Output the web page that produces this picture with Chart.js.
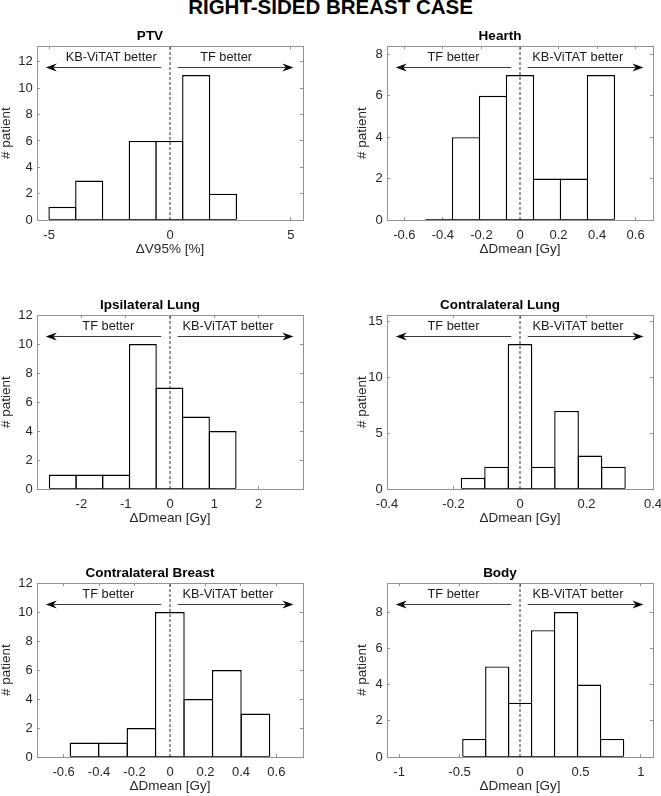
<!DOCTYPE html>
<html><head><meta charset="utf-8">
<script src="https://cdn.jsdelivr.net/npm/chart.js@4"></script>
<style>
html,body{margin:0;padding:0;background:#fff;}
body{width:661px;height:796px;position:relative;overflow:hidden;}
#title{position:absolute;left:0;top:-1px;width:661px;text-align:center;font:bold 20.5px "Liberation Sans",Arial,sans-serif;line-height:15px;color:#000;}
canvas{position:absolute;}
</style></head><body>
<div id="title">RIGHT-SIDED BREAST CASE</div>
<canvas id="c0"></canvas><canvas id="c1"></canvas><canvas id="c2"></canvas>
<canvas id="c3"></canvas><canvas id="c4"></canvas><canvas id="c5"></canvas>
<script>
// ---------- data ----------
const ptvEdges = [-5.0, -3.894, -2.788, -1.682, -0.576, 0.53, 1.636, 2.742];
const ptvCounts = [1, 3, 0, 6, 6, 11, 2];
const ptvXTicks = [-5, 0, 5];
const ptvYTicks = [0, 2, 4, 6, 8, 10, 12];

const heartEdges = [-0.49, -0.35, -0.21, -0.07, 0.07, 0.21, 0.35, 0.49];
const heartCounts = [0, 4, 6, 7, 2, 2, 7];
const heartXTicks = [-0.6, -0.4, -0.2, 0, 0.2, 0.4, 0.6];
const heartYTicks = [0, 2, 4, 6, 8];

const ipsiEdges = [-2.72, -2.12, -1.515, -0.915, -0.31, 0.285, 0.885, 1.49];
const ipsiCounts = [1, 1, 1, 10, 7, 5, 4];
const ipsiXTicks = [-2, -1, 0, 1, 2];
const ipsiYTicks = [0, 2, 4, 6, 8, 10, 12];

const contraLungEdges = [-0.176, -0.106, -0.035, 0.035, 0.105, 0.175, 0.246, 0.316];
const contraLungCounts = [1, 2, 13, 2, 7, 3, 2];
const contraLungXTicks = [-0.4, -0.2, 0, 0.2, 0.4];
const contraLungYTicks = [0, 5, 10, 15];

const breastEdges = [-0.5625, -0.402, -0.241, -0.081, 0.079, 0.24, 0.401, 0.5625];
const breastCounts = [1, 1, 2, 10, 4, 6, 3];
const breastXTicks = [-0.6, -0.4, -0.2, 0, 0.2, 0.4, 0.6];
const breastYTicks = [0, 2, 4, 6, 8, 10, 12];

const bodyEdges = [-0.4725, -0.283, -0.093, 0.096, 0.286, 0.476, 0.667, 0.857];
const bodyCounts = [1, 5, 3, 7, 8, 4, 1];
const bodyXTicks = [-1, -0.5, 0, 0.5, 1];
const bodyYTicks = [0, 2, 4, 6, 8];

const panelTitles = ['PTV', 'Hearth', 'Ipsilateral Lung', 'Contralateral Lung', 'Contralateral Breast', 'Body'];
const xLabels = ['\u0394V95% [%]', '\u0394Dmean [Gy]', '\u0394Dmean [Gy]', '\u0394Dmean [Gy]', '\u0394Dmean [Gy]', '\u0394Dmean [Gy]'];
const yLabel = '# patient';
const leftNotes = ['KB-ViTAT better', 'TF better', 'TF better', 'TF better', 'TF better', 'TF better'];
const rightNotes = ['TF better', 'KB-ViTAT better', 'KB-ViTAT better', 'KB-ViTAT better', 'KB-ViTAT better', 'KB-ViTAT better'];

// ---------- layout ----------
const FONT = '"Liberation Sans", Arial, Helvetica, sans-serif';
const GRAY = '#939393';
const TXT = '#262626';
const COL_LEFT = [36.5, 386.7];
const ROW_TOP = [46.3, 315, 583.5];
const PLOT_W = 266.3, PLOT_H = 174;
const WY = 40, HX = 40, T = 20.1;

const panels = [
  {edges: ptvEdges, counts: ptvCounts, xTicks: ptvXTicks, yTicks: ptvYTicks, xMin: -5.5, xMax: 5.5, yMax: 13.2, noteL: 0.279, noteR: 0.711},
  {edges: heartEdges, counts: heartCounts, xTicks: heartXTicks, yTicks: heartYTicks, xMin: -0.69, xMax: 0.69, yMax: 8.4, noteL: 0.25, noteR: 0.717},
  {edges: ipsiEdges, counts: ipsiCounts, xTicks: ipsiXTicks, yTicks: ipsiYTicks, xMin: -3, xMax: 3, yMax: 12, noteL: 0.268, noteR: 0.718},
  {edges: contraLungEdges, counts: contraLungCounts, xTicks: contraLungXTicks, yTicks: contraLungYTicks, xMin: -0.4, xMax: 0.4, yMax: 15.6, noteL: 0.25, noteR: 0.718},
  {edges: breastEdges, counts: breastCounts, xTicks: breastXTicks, yTicks: breastYTicks, xMin: -0.75, xMax: 0.75, yMax: 12, noteL: 0.268, noteR: 0.718},
  {edges: bodyEdges, counts: bodyCounts, xTicks: bodyXTicks, yTicks: bodyYTicks, xMin: -1.1, xMax: 1.1, yMax: 9.6, noteL: 0.25, noteR: 0.718}
];

Chart.defaults.font.family = FONT;

function drawArrow(ctx, x0, y, x1) {
  const dir = x1 > x0 ? 1 : -1;
  const L = 11, Hh = 4, ind = 3.5;
  ctx.beginPath();
  ctx.moveTo(x0, y);
  ctx.lineTo(x1 - dir * (L - ind), y);
  ctx.stroke();
  ctx.beginPath();
  ctx.moveTo(x1, y);
  ctx.lineTo(x1 - dir * L, y - Hh);
  ctx.lineTo(x1 - dir * (L - ind), y);
  ctx.lineTo(x1 - dir * L, y + Hh);
  ctx.closePath();
  ctx.fill();
}

Chart.register({
  id: 'arrowNotes',
  afterDatasetsDraw(chart, args, opts) {
    const {ctx, chartArea: a} = chart;
    const w = a.right - a.left;
    ctx.save();
    ctx.font = '12.8px ' + FONT;
    ctx.fillStyle = '#1a1a1a';
    ctx.textAlign = 'center';
    ctx.textBaseline = 'middle';
    ctx.fillText(opts.left, a.left + opts.leftX * w, a.top + 11);
    ctx.fillText(opts.right, a.left + opts.rightX * w, a.top + 11);
    ctx.strokeStyle = '#3a3a3a';
    ctx.fillStyle = '#000';
    ctx.lineWidth = 1;
    const ya = Math.round(a.top + 21) + 0.5;
    drawArrow(ctx, a.left + 0.467 * w, ya, a.left + 0.033 * w);
    drawArrow(ctx, a.left + 0.529 * w, ya, a.left + 0.964 * w);
    ctx.restore();
  }
});

function axisCommon(ticksArr) {
  return {
    type: 'linear', offset: false,
    afterBuildTicks: s => { s.ticks = ticksArr.map(v => ({value: v})); },
    grid: {display: true, drawOnChartArea: false, drawTicks: true, tickLength: -3, color: GRAY, offset: false, lineWidth: 1},
    border: {display: true, color: GRAY, width: 1}
  };
}

panels.forEach((p, i) => {
  const col = i % 2, row = Math.floor(i / 2);
  const canvas = document.getElementById('c' + i);
  const W = PLOT_W + 2 * WY, H = T + PLOT_H + HX;
  canvas.width = W; canvas.height = H;
  canvas.style.width = W + 'px'; canvas.style.height = H + 'px';
  canvas.style.left = (COL_LEFT[col] - WY) + 'px';
  canvas.style.top = (ROW_TOP[row] - T) + 'px';
  const binPx = (p.edges[1] - p.edges[0]) / (p.xMax - p.xMin) * PLOT_W;
  const bw = 1.4;
  const bars = p.counts.map((c, k) => ({x: (p.edges[k] + p.edges[k + 1]) / 2, y: c}));
  new Chart(canvas, {
    type: 'bar',
    data: {datasets: [
      {type: 'line', data: [{x: 0, y: 0}, {x: 0, y: p.yMax}], borderColor: '#000', borderWidth: 0.8, borderDash: [3, 2], pointRadius: 0, order: 0},
      {type: 'line', data: [{x: p.edges[0], y: 0}, {x: p.edges[p.edges.length - 1], y: 0}], borderColor: '#000', borderWidth: 1.5, pointRadius: 0, order: 0},
      {type: 'bar', data: bars, backgroundColor: '#fff', borderColor: '#000', borderWidth: bw, borderSkipped: 'start',
       barPercentage: (binPx + bw) / binPx, categoryPercentage: 1, inflateAmount: 0, order: 1}
    ]},
    options: {
      responsive: false, animation: false, devicePixelRatio: 1,
      layout: {padding: {left: 0, right: WY, top: 0, bottom: 0}},
      plugins: {
        legend: {display: false}, tooltip: {enabled: false},
        title: {display: true, text: panelTitles[i], color: '#000', font: {size: 13.5, weight: 'bold', family: FONT, lineHeight: 1.2}, padding: {top: 2, bottom: 1.9}},
        arrowNotes: {left: leftNotes[i], right: rightNotes[i], leftX: p.noteL, rightX: p.noteR}
      },
      scales: {
        x: Object.assign(axisCommon(p.xTicks), {
          position: 'bottom', min: p.xMin, max: p.xMax,
          afterFit: s => { s.height = HX; },
          ticks: {autoSkip: false, maxRotation: 0, minRotation: 0, padding: 10.2, color: TXT, font: {size: 13, lineHeight: 1.2}, callback: v => String(v)},
          title: {display: true, text: xLabels[i], color: TXT, font: {size: 13.5, lineHeight: 1.2}, padding: {top: 0, bottom: 2.9}}
        }),
        x2: Object.assign(axisCommon(p.xTicks), {
          position: 'top', min: p.xMin, max: p.xMax,
          afterFit: s => { s.height = 0; },
          ticks: {display: false}
        }),
        y: Object.assign(axisCommon(p.yTicks), {
          position: 'left', min: 0, max: p.yMax,
          afterFit: s => { s.width = WY; },
          ticks: {autoSkip: false, padding: 7.3, color: TXT, font: {size: 13, lineHeight: 1.2}, callback: v => String(v)},
          title: {display: true, text: yLabel, color: TXT, font: {size: 13.5, lineHeight: 1.2}, padding: {top: col === 0 ? 0.9 : 7.5, bottom: 0}}
        }),
        y2: Object.assign(axisCommon(p.yTicks), {
          position: 'right', min: 0, max: p.yMax,
          afterFit: s => { s.width = 0; },
          ticks: {display: false}
        })
      }
    }
  });
});
</script>
</body></html>
